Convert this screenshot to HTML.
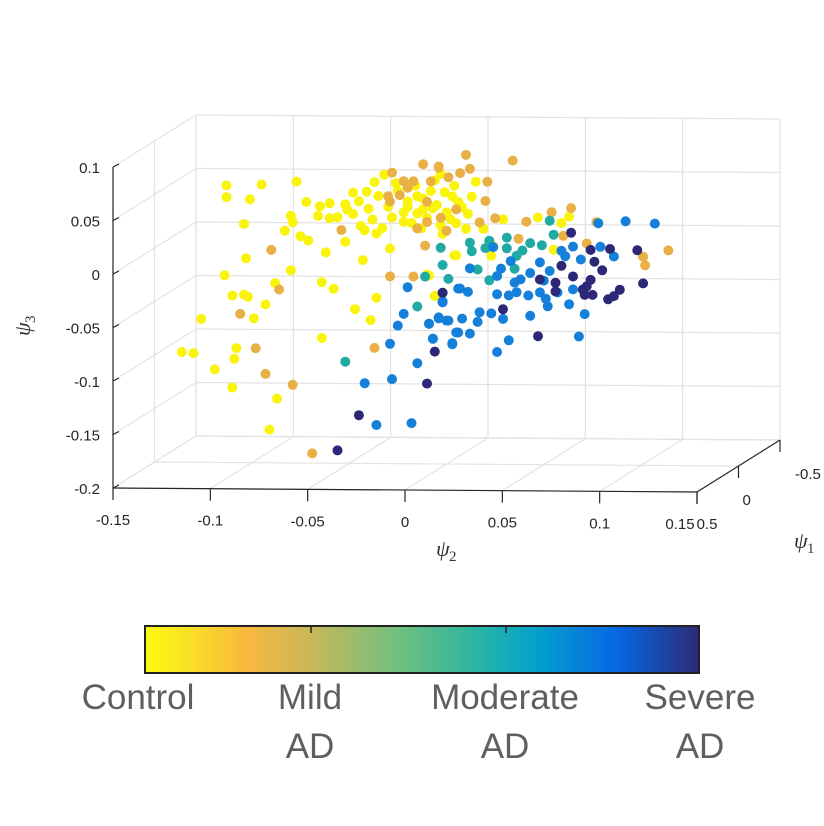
<!DOCTYPE html>
<html><head><meta charset="utf-8"><style>
html,body{margin:0;padding:0;background:#fff;}
svg{display:block;font-family:"Liberation Sans",Arial,sans-serif;}
</style></head><body>
<svg id="chart" width="824" height="826" viewBox="0 0 824 826" xmlns="http://www.w3.org/2000/svg">
<defs>
<linearGradient id="parula" x1="0" x2="1" y1="0" y2="0">
<stop offset="0" stop-color="#f9fb10"/><stop offset="0.1" stop-color="#f9d82a"/><stop offset="0.18" stop-color="#fbb83c"/>
<stop offset="0.3" stop-color="#c8b75a"/><stop offset="0.45" stop-color="#74c07c"/><stop offset="0.6" stop-color="#2ab5a4"/>
<stop offset="0.7" stop-color="#04a3cc"/><stop offset="0.85" stop-color="#0568e4"/><stop offset="1" stop-color="#2e2a78"/>
</linearGradient>
</defs>
<g id="grid"></g>
<g id="axes"></g>
<g id="points"></g>
<g>
<rect x="145" y="626" width="554" height="47" fill="url(#parula)" stroke="#222" stroke-width="2"/>
<line x1="311" y1="627" x2="311" y2="633" stroke="#222" stroke-width="1.5"/>
<line x1="506" y1="627" x2="506" y2="633" stroke="#222" stroke-width="1.5"/>
</g>
<g font-size="35" fill="#5f5f5f" text-anchor="middle">
<text x="138" y="709">Control</text>
<text x="310" y="709">Mild</text>
<text x="310" y="758">AD</text>
<text x="505" y="709">Moderate</text>
<text x="505" y="758">AD</text>
<text x="700" y="709">Severe</text>
<text x="700" y="758">AD</text>
</g>
</svg>
<script>
const xTicks=[-0.15,-0.1,-0.05,0,0.05,0.1,0.15];
const xTickLabels=["-0.15","-0.1","-0.05","0","0.05","0.1","0.15"];
const zTicks=[0.1,0.05,0,-0.05,-0.1,-0.15,-0.2];
const zTickLabels=["0.1","0.05","0","-0.05","-0.1","-0.15","-0.2"];
const yTicks=[0.5,0,-0.5];
const yTickLabels=["0.5","0","-0.5"];
const groupNames=["control","mild","moderate","moderate-severe","severe"];
const groupColors=["#f9f40a","#e8b045","#21a9a3","#1580da","#2c2877"];
const control_psi2=[-0.113,-0.113,-0.095,-0.101,-0.077,-0.072,-0.104,-0.080,-0.079,-0.083,-0.075,-0.071,-0.066,-0.065,-0.060,-0.060,-0.062,-0.052,-0.051,-0.048,-0.041,-0.037,-0.032,-0.042,-0.036,-0.029,-0.043,-0.103,-0.114,-0.080,-0.064,-0.058,-0.036,-0.047,-0.039,-0.110,-0.104,-0.102,-0.093,-0.088,-0.099,-0.126,-0.064,-0.108,-0.109,-0.119,-0.136,-0.130,-0.110,-0.087,-0.091,-0.010,-0.006,0.004,
-0.003,0.015,-0.001,-0.012,0.006,0.013,-0.007,-0.015,-0.020,0.002,0.011,0.019,0.029,0.047,0.059,0.063,0.005,0.023,0.024,0.055,-0.009,-0.006,-0.013,-0.003,-0.022,
-0.045,-0.040,-0.035,-0.030,-0.028,-0.025,-0.022,-0.020,-0.018,-0.015,-0.012,-0.010,-0.008,-0.005,0.000,0.003,0.005,0.008,-0.038,-0.033,-0.048,-0.052,-0.056,-0.044,-0.026,-0.016,-0.006,0.004,-0.002,0.010];
const control_psi3=[0.059,0.048,0.060,0.046,0.063,0.044,0.023,0.031,0.025,0.017,0.012,0.008,0.031,0.040,0.043,0.029,-0.003,0.007,0.037,0.053,0.054,0.063,0.070,0.018,0.015,0.001,-0.010,-0.009,-0.025,-0.020,-0.031,-0.037,-0.045,-0.056,-0.066,-0.044,-0.043,-0.045,-0.052,-0.032,-0.065,-0.066,-0.083,-0.093,-0.103,-0.113,-0.097,-0.098,-0.130,-0.140,-0.169,-0.023,-0.043,-0.005,
0.071,0.064,0.054,0.048,0.045,0.050,0.039,0.034,0.040,0.029,0.034,0.020,0.029,0.031,0.026,0.032,-0.005,-0.005,0.004,0.001,-0.024,-0.043,0.020,0.023,0.026,
0.045,0.038,0.050,0.040,0.030,0.055,0.035,0.045,0.025,0.050,0.038,0.030,0.055,0.042,0.035,0.050,0.025,0.040,0.028,0.020,0.033,0.042,0.030,0.022,0.062,0.060,0.065,0.060,0.015,0.020];
const mild_psi2=[-0.029,-0.017,-0.090,-0.086,-0.106,-0.098,-0.093,-0.079,-0.037,-0.069,-0.054,-0.012,-0.004,-0.028,-0.022,-0.017,-0.029,-0.024,-0.010,-0.008,
0.010,0.034,-0.004,0.012,0.007,0.021,0.001,0.020,0.017,0.025,0.041,0.054,0.064,0.077,0.072,0.101,0.102,0.114,0.060,0.037,0.000,-0.011,
-0.020,-0.010,-0.003,-0.030,0.005,-0.015];
const mild_psi3=[-0.025,-0.025,-0.001,-0.038,-0.061,-0.093,-0.117,-0.127,-0.092,-0.191,0.018,0.080,0.077,0.072,0.064,0.064,0.045,0.051,0.026,0.064,
0.089,0.084,0.078,0.076,0.072,0.064,0.068,0.046,0.026,0.030,0.027,0.036,0.040,0.027,0.007,-0.005,-0.013,0.001,0.014,0.011,0.018,0.004,
0.058,0.045,0.030,0.050,0.038,0.020];
const moderate_psi2=[-0.003,-0.002,0.001,-0.015,-0.052,-0.011,0.012,0.013,0.020,0.022,0.031,0.031,0.036,0.039,0.022,0.016,0.035,0.043,0.049,0.055,0.053];
const moderate_psi3=[0.002,-0.014,-0.027,-0.053,-0.105,-0.025,0.007,-0.001,0.002,0.009,0.012,0.002,-0.005,0.000,-0.028,-0.018,-0.017,0.007,0.005,0.015,0.028];
const blue_psi2=[-0.020,-0.022,-0.025,-0.029,-0.042,-0.028,-0.015,-0.036,-0.018,-0.009,-0.004,0.001,-0.007,0.003,0.005,-0.002,0.006,
-0.002,-0.002,0.007,0.011,0.012,0.024,0.028,0.026,0.033,0.026,0.032,0.036,0.042,0.048,0.043,0.035,0.038,0.048,0.050,0.053,0.059,0.061,0.065,0.069,0.079,0.086,0.092,0.107,0.078,0.063,0.071,0.068,0.052,0.051,0.057,0.065,0.029,0.032,0.026,0.017,0.023,0.016,0.008,0.006,0.000,-0.004,-0.009,-0.007,0.003,0.012,0.043];
const blue_psi3=[-0.035,-0.060,-0.071,-0.088,-0.125,-0.121,-0.106,-0.164,-0.162,-0.069,-0.063,-0.066,-0.083,-0.087,-0.077,-0.048,-0.036,
-0.040,-0.049,-0.036,-0.039,-0.017,0.003,-0.017,-0.024,-0.010,-0.041,-0.042,-0.039,-0.042,-0.039,-0.021,-0.030,-0.027,-0.011,-0.028,-0.019,0.000,-0.005,0.004,-0.008,0.004,-0.005,0.028,0.026,0.026,-0.050,-0.059,-0.080,-0.052,-0.045,-0.039,-0.036,-0.064,-0.084,-0.095,-0.058,-0.059,-0.067,-0.064,-0.077,-0.066,-0.064,-0.069,-0.083,-0.088,-0.078,-0.061];
const severe_psi2=[-0.006,-0.010,-0.045,-0.056,-0.002,0.029,0.047,0.048,0.056,0.056,0.059,0.065,0.064,0.074,0.076,0.080,0.084,0.098,0.101,0.070,0.072,0.075,0.071,0.074,0.083,0.086,0.089];
const severe_psi3=[-0.095,-0.125,-0.155,-0.188,-0.040,-0.055,-0.080,-0.027,-0.030,-0.038,-0.014,-0.024,0.017,0.001,-0.010,-0.018,0.002,0.001,-0.030,-0.036,-0.033,-0.041,-0.041,-0.027,-0.045,-0.042,-0.036];
const pointPsi1=0;

const NS="http://www.w3.org/2000/svg";
function px(x,y1){return 113+(x+0.15)/0.3*584+(0.5-y1)*83;}
function py(x,y1,z){return 488-(z+0.2)/0.3*321+(x+0.15)/0.3*4-(0.5-y1)*52;}
function mk(tag,attrs,parent){const e=document.createElementNS(NS,tag);for(const k in attrs)e.setAttribute(k,attrs[k]);parent.appendChild(e);return e;}
const grid=document.getElementById('grid'),axes=document.getElementById('axes'),pts=document.getElementById('points');
const gc="#e3e3e3";
function gline(a,b,name){const l=mk('line',{x1:a[0],y1:a[1],x2:b[0],y2:b[1],stroke:gc,'stroke-width':1.2},grid);

}
function P(x,y1,z){return [px(x,y1),py(x,y1,z)];}
const zMin=-0.2,zMax=0.1,xMin=-0.15,xMax=0.15;
xTicks.forEach(x=>{gline(P(x,-0.5,zMin),P(x,-0.5,zMax),'back-wall-gridline');gline(P(x,0.5,zMin),P(x,-0.5,zMin),'floor-gridline');});
zTicks.forEach(z=>{gline(P(xMin,-0.5,z),P(xMax,-0.5,z),'back-wall-gridline');gline(P(xMin,0.5,z),P(xMin,-0.5,z),'left-wall-gridline');});
yTicks.forEach(y=>{gline(P(xMin,y,zMin),P(xMax,y,zMin),'floor-gridline');gline(P(xMin,y,zMin),P(xMin,y,zMax),'left-wall-gridline');});
const ac="#262626";
function aline(a,b,name){const l=mk('line',{x1:a[0],y1:a[1],x2:b[0],y2:b[1],stroke:ac,'stroke-width':1.2},axes);

}
function txt(s,x,y,anchor,name,size){const t=mk('text',{x:x,y:y,'text-anchor':anchor,'font-size':size||15,fill:'#262626'},axes);t.textContent=s;

}
aline(P(xMin,0.5,zMin),P(xMin,0.5,zMax),'z-axis-line');
aline(P(xMin,0.5,zMin),P(xMax,0.5,zMin),'x-axis-line');
aline(P(xMax,0.5,zMin),P(xMax,-0.5,zMin),'y-axis-line');
zTicks.forEach((z,i)=>{const p=P(xMin,0.5,z);aline(p,[p[0]+6,p[1]-3],'z-tick');txt(zTickLabels[i],p[0]-13,p[1]+6,'end','z-tick-label');});
xTicks.forEach((x,i)=>{const p=P(x,0.5,zMin);aline(p,[p[0],p[1]+12],'x-tick');
let lx=p[0];if(i===xTicks.length-1)lx-=17;txt(xTickLabels[i],lx,p[1]+37,'middle','x-tick-label');});
yTicks.forEach((y,i)=>{const p=P(xMax,y,zMin);aline(p,[p[0],p[1]+12],'y-tick');
const dx=i===0?10:(i===1?4:15);txt(yTickLabels[i],p[0]+dx,p[1]+(i===0?37:39),i===0?'middle':'start','y-tick-label');});
function mathLabel(x,y,sub,name,rot){const g=mk('g',{transform:`translate(${x},${y})`+(rot?` rotate(${rot})`:'')},axes);


const t=mk('text',{x:0,y:0,'font-family':'"Liberation Serif",serif','font-style':'italic','font-size':22,fill:'#333'},g);t.textContent='ψ';
const s=mk('text',{x:13,y:5,'font-family':'"Liberation Serif",serif','font-size':15,fill:'#333'},g);s.textContent=sub;}
mathLabel(436,556,'2','x-axis-title',0);
mathLabel(794,548,'1','y-axis-title',0);
mathLabel(30,336,'3','z-axis-title',-90);
const groups=[[control_psi2,control_psi3],[mild_psi2,mild_psi3],[moderate_psi2,moderate_psi3],[blue_psi2,blue_psi3],[severe_psi2,severe_psi3]];
groups.forEach((g,gi)=>{g[0].forEach((x,i)=>{const z=g[1][i];
const c=mk('circle',{cx:px(x,pointPsi1).toFixed(1),cy:py(x,pointPsi1,z).toFixed(1),r:5,fill:groupColors[gi]},pts);

});});
</script>
</body></html>
